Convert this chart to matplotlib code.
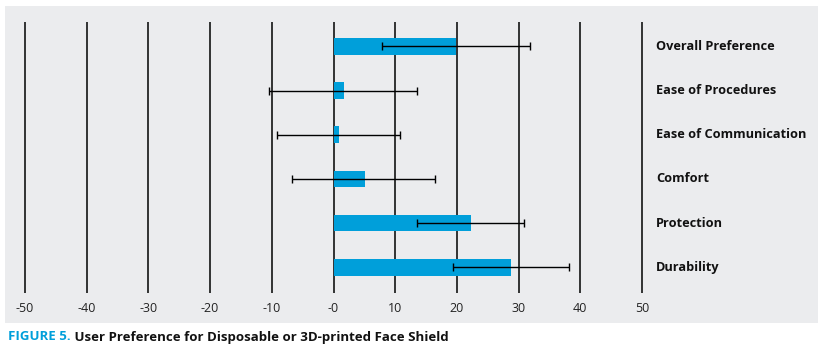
import matplotlib
matplotlib.use("Agg")
import matplotlib.pyplot as plt
import numpy as np

categories = ["Overall Preference", "Ease of Procedures", "Ease of Communication",
              "Comfort", "Protection", "Durability"]
means = [19.9, 1.7, 0.9, 5.1, 22.3, 28.8]
err_low = [7.8, -10.5, -9.1, -6.8, 13.6, 19.3]
err_high = [31.8, 13.6, 10.8, 16.5, 30.8, 38.1]
ticks = [-50, -40, -30, -20, -10, 0, 10, 20, 30, 40, 50]
tick_labels = ["-50", "-40", "-30", "-20", "-10", "-0", "10", "20", "30", "40", "50"]

BLUE = "#009FDA"
GREY = "#EBECEE"
FONT = ["Open Sans", "DejaVu Sans"]

W, H = 822, 351
fig = plt.figure(figsize=(W / 100, H / 100), dpi=100)

# axes covering grey panel: x 5..818, y 6..323 (pixels from top)
ax = fig.add_axes([5 / W, 1 - 323 / H, 813 / W, 317 / H])
ax.set_facecolor(GREY)
for s in ax.spines.values():
    s.set_visible(False)
ax.set_xticks([])
ax.set_yticks([])

pxu = 6.17  # pixels per unit
x0 = 25     # pixel of -50
ax.set_xlim(-50 - (x0 - 5) / pxu, 50 + (818 - 642) / pxu)

sp = 44.2
c0 = 46.3
ax.set_ylim((323 - c0) / sp, (6 - c0) / sp)

y = np.arange(len(categories))
ax.vlines(ticks, (22 - c0) / sp, (293 - c0) / sp, color="black", lw=1.1, zorder=1)

means_a = np.array(means)
xerr = np.array([means_a - np.array(err_low), np.array(err_high) - means_a])
ax.barh(y, means, height=0.38, color=BLUE, zorder=2)
ax.errorbar(means, y, xerr=xerr, fmt="none", ecolor="black", elinewidth=1.0,
            capsize=2.6, capthick=1.0, zorder=3)

ty = (309 - c0) / sp
for t, lab in zip(ticks, tick_labels):
    ax.text(t, ty, lab, ha="center", va="center", fontsize=9, color="#222222",
            family=FONT)

lx = 50 + (656 - 642) / pxu
for yi, cat in zip(y, categories):
    ax.text(lx, yi, cat, ha="left", va="center", fontsize=9.2, fontweight="bold",
            color="#111111", family=FONT)

t1 = fig.text(8 / W, 1 - 337 / H, "FIGURE 5.", ha="left", va="center", fontsize=9.5,
              fontweight="bold", color=BLUE, family=FONT)
fig.canvas.draw()
bb = t1.get_window_extent()
fig.text(bb.x1 / W, bb.y0 / H, " User Preference for Disposable or 3D-printed Face Shield",
         fontsize=9.5, fontweight="bold", color="#111111", family=FONT,
         ha="left", va="bottom")
fig.savefig("out.png", dpi=100)
